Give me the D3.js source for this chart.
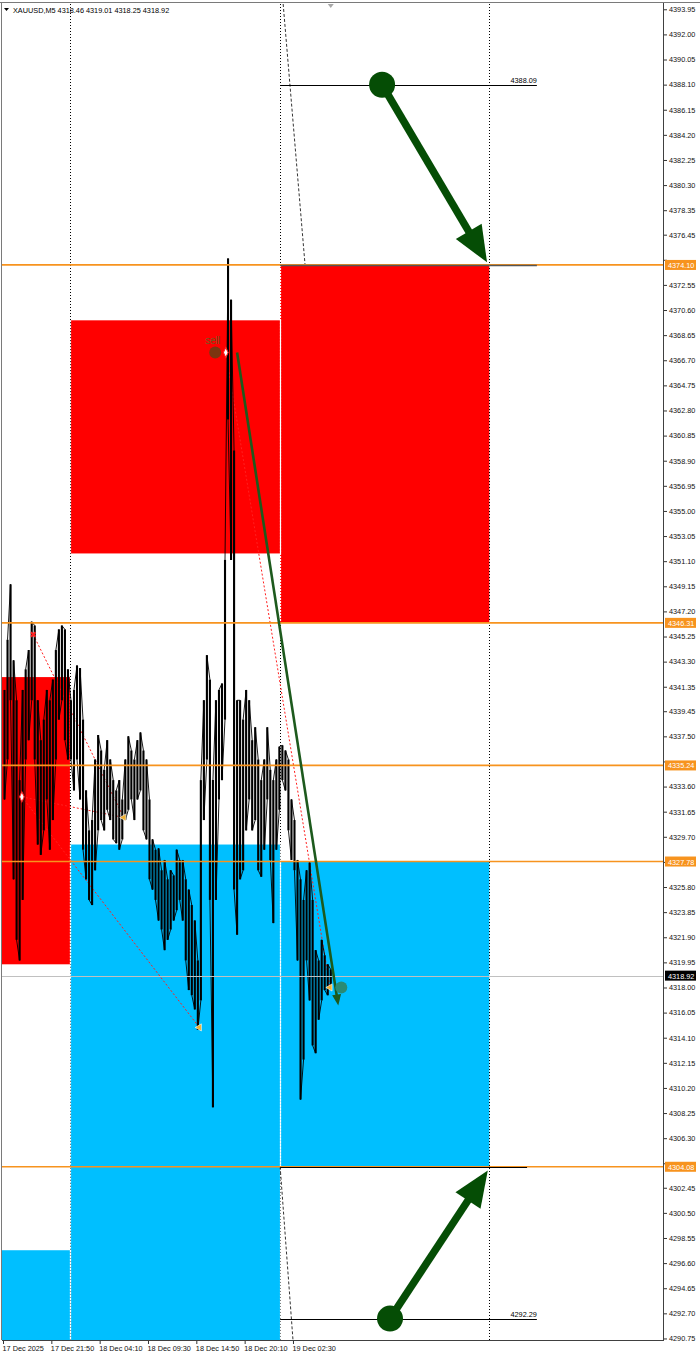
<!DOCTYPE html>
<html>
<head>
<meta charset="utf-8">
<script src="https://d3js.org/d3.v7.min.js"></script>
<style>
  body { margin: 0; background: #fff; }
  svg { display: block; }
  text { font-family: "Liberation Sans", Arial, sans-serif; }
</style>
</head>
<body>
<svg id="chart" width="700" height="1357"></svg>
<script>
// ---- data ----
const symbolName = "XAUUSD,M5";
const lastQuote = [4318.46, 4319.01, 4318.25, 4318.92];
const bidPrice = 4318.92;

// price range per column of 4 M5 bars, left to right
const barsPerColumn = 4;
const barHigh = [4341.1, 4345.0, 4349.3, 4343.4, 4340.3, 4334.1, 4341.1, 4342.7, 4344.2, 4346.4,
  4346.1, 4340.3, 4337.2, 4338.8, 4341.1, 4340.3, 4341.9, 4344.2, 4345.8, 4346.1,
  4345.8, 4342.7, 4340.3, 4341.1, 4343.0, 4342.8, 4338.8, 4333.3, 4330.2, 4331.0,
  4335.7, 4337.6, 4336.4, 4334.9, 4337.2, 4335.7, 4334.1, 4333.3, 4334.1, 4332.6,
  4335.7, 4337.5, 4336.4, 4335.7, 4337.2, 4337.8, 4336.4, 4335.7, 4332.6, 4329.5,
  4328.7, 4328.8, 4327.1, 4327.9, 4326.4, 4327.1, 4326.7, 4328.7, 4327.9, 4327.9,
  4326.4, 4325.6, 4324.4, 4323.2, 4320.1, 4334.1, 4340.3, 4343.8, 4341.9, 4334.1,
  4340.3, 4341.1, 4341.6, 4351.2, 4374.6, 4371.4, 4359.7, 4340.3, 4340.3, 4338.8,
  4341.1, 4340.3, 4337.2, 4338.2, 4335.7, 4334.1, 4335.7, 4338.2, 4334.9, 4334.1,
  4335.7, 4336.7, 4336.8, 4336.4, 4335.7, 4332.6, 4331.0, 4327.9, 4326.4, 4324.8,
  4327.1, 4327.7, 4324.8, 4320.9, 4320.1, 4321.7, 4320.5, 4319.8, 4319.4];
const barLow = [4332.6, 4335.7, 4340.3, 4326.4, 4321.7, 4320.1, 4324.8, 4335.7, 4337.2, 4340.3,
  4335.7, 4329.1, 4328.3, 4330.2, 4332.6, 4328.7, 4331.0, 4335.7, 4338.8, 4340.3,
  4337.2, 4335.7, 4335.7, 4333.3, 4335.7, 4332.6, 4328.7, 4326.4, 4324.8, 4324.4,
  4327.1, 4330.2, 4331.0, 4330.2, 4331.8, 4331.0, 4329.5, 4329.2, 4328.7, 4329.5,
  4331.0, 4331.8, 4332.6, 4331.0, 4332.6, 4333.3, 4330.2, 4329.5, 4326.4, 4325.6,
  4324.8, 4323.2, 4322.5, 4320.9, 4321.7, 4322.5, 4323.2, 4324.0, 4324.8, 4323.2,
  4320.1, 4317.8, 4317.4, 4316.3, 4314.7, 4317.0, 4331.0, 4335.7, 4324.8, 4308.7,
  4324.8, 4332.6, 4334.1, 4338.8, 4362.1, 4351.2, 4325.6, 4322.1, 4326.4, 4327.1,
  4330.2, 4332.6, 4330.2, 4331.0, 4327.1, 4326.6, 4328.7, 4332.6, 4327.9, 4323.0,
  4328.7, 4331.8, 4334.1, 4333.3, 4330.2, 4327.9, 4327.1, 4320.1, 4309.3, 4312.4,
  4320.1, 4317.0, 4313.5, 4312.9, 4315.5, 4317.0, 4317.8, 4317.4, 4318.2];

const priceTicks = [4393.95, 4392.00, 4390.05, 4388.10, 4386.15, 4384.20, 4382.25, 4380.30, 4378.35,
  4376.45, 4374.50, 4372.55, 4370.60, 4368.65, 4366.70, 4364.75, 4362.80, 4360.85, 4358.90,
  4356.95, 4355.00, 4353.05, 4351.10, 4349.15, 4347.20, 4345.25, 4343.30, 4341.35, 4339.45,
  4337.50, 4335.55, 4333.60, 4331.65, 4329.70, 4327.75, 4325.80, 4323.85, 4321.90, 4319.95,
  4318.00, 4316.05, 4314.10, 4312.15, 4310.20, 4308.25, 4306.30, 4304.35, 4302.45, 4300.50,
  4298.55, 4296.60, 4294.65, 4292.70, 4290.75];
// ticks whose label sits under a level tag
const hiddenTicks = [4374.50, 4335.55, 4327.75, 4304.35];

const timeTicks = [0, 64, 128, 192, 256, 320, 384];
const timeLabels = ["17 Dec 2025", "17 Dec 21:50", "18 Dec 04:10", "18 Dec 09:30",
  "18 Dec 14:50", "18 Dec 20:10", "19 Dec 02:30"];

// horizontal levels (orange)
const levelPrices = [4374.10, 4346.31, 4335.24, 4327.78, 4304.08];

// supply / demand zones (bar index, price)
const zoneStart = [-4, -4, 89, 89, 367, 367];
const zoneEnd = [89, 89, 367, 367, 644, 644];
const zoneTop = [4342.1, 4297.6, 4369.8, 4329.1, 4374.10, 4327.78];
const zoneBottom = [4319.8, 4285.0, 4351.7, 4285.0, 4346.31, 4304.08];
const zoneSide = ["sell", "buy", "sell", "buy", "sell", "buy"];

// vertical separators
const sessionBars = [89, 367, 644];

// short horizontal segments
const segPrice = [4388.09, 4374.10, 4304.08, 4292.29];
const segStart = [367, 367, 367, 367];
const segEnd = [707, 707, 694, 707];
const segLabel = ["4388.09", "", "", "4292.29"];

// dashed diagonals
const diagFrom = [[371, 4394.36], [367, 4304.08]];
const diagTo = [[400, 4374.10], [384, 4290.63]];

// big arrows (circle -> head)
const bigArrowFrom = [[502, 4388.09], [512.5, 4292.29]];
const bigArrowTo = [[641, 4374.3], [642, 4303.8]];

// thin trade arrow
const tradeArrowFrom = [310, 4367.3];
const tradeArrowTo = [444, 4316.6];

// trade history
const tradeFrom = [[40, 4345.4], [25, 4332.8], [25, 4332.8], [295, 4367.3]];
const tradeTo = [[160, 4331.2], [160, 4331.2], [260, 4314.9], [433, 4318.0]];
const openMarks = [[25, 4332.8], [295, 4367.3]];
const crossMarks = [[40, 4345.4]];
const closeMarks = [[160, 4331.2], [260, 4314.9], [433, 4318.0]];
const sellSignal = [281, 4367.3];
const exitSignal = [448, 4318.0];

// ---- drawing ----
const svg = d3.select("#chart");
const W = 700, H = 1357;
const plotL = 2, plotR = 663, plotT = 4, plotB = 1340;

const xs = d3.scaleLinear().domain([0, 874]).range([3, 663]);
const ys = d3.scaleLinear().domain([4290.63, 4394.36]).range([plotB, plotT]);
const cx = v => Math.round(xs(v)) + 0.5;
const cy = v => Math.round(ys(v)) + 0.5;

svg.append("rect").attr("width", W).attr("height", H).attr("fill", "#fff");

svg.append("defs").append("clipPath").attr("id", "clip")
  .append("rect").attr("x", plotL).attr("y", plotT).attr("width", plotR - plotL).attr("height", plotB - plotT);

const plot = svg.append("g").attr("clip-path", "url(#clip)");

// zones
plot.selectAll("rect.zone")
  .data(zoneSide)
  .enter()
  .append("rect")
  .attr("class", "zone")
  .attr("x", (d, i) => xs(zoneStart[i]))
  .attr("width", (d, i) => xs(zoneEnd[i]) - xs(zoneStart[i]))
  .attr("y", (d, i) => ys(zoneTop[i]))
  .attr("height", (d, i) => ys(zoneBottom[i]) - ys(zoneTop[i]))
  .attr("fill", d => d === "sell" ? "#ff0000" : "#00bfff");

// vertical dotted separators
plot.selectAll("line.sep")
  .data(sessionBars)
  .enter()
  .append("line")
  .attr("x1", d => cx(d)).attr("x2", d => cx(d))
  .attr("y1", plotT).attr("y2", plotB)
  .attr("stroke", "#000").attr("stroke-dasharray", "1,2");

// separators show white where they cross a zone
sessionBars.slice(0, 2).forEach(b => {
  zoneSide.forEach((s, i) => {
    if (zoneStart[i] === b || zoneEnd[i] === b) {
      plot.append("line")
        .attr("x1", cx(b)).attr("x2", cx(b))
        .attr("y1", ys(zoneTop[i])).attr("y2", ys(zoneBottom[i]))
        .attr("stroke", "#fff").attr("stroke-width", 1.2).attr("stroke-dasharray", "2,1");
    }
  });
});

// dashed diagonals
plot.selectAll("line.diag")
  .data(diagFrom)
  .enter()
  .append("line")
  .attr("x1", d => xs(d[0])).attr("y1", d => ys(d[1]))
  .attr("x2", (d, i) => xs(diagTo[i][0])).attr("y2", (d, i) => ys(diagTo[i][1]))
  .attr("stroke", "#000").attr("stroke-width", 0.8).attr("stroke-dasharray", "3,2");

// trade history dotted lines
plot.selectAll("line.trade")
  .data(tradeFrom)
  .enter()
  .append("line")
  .attr("x1", d => xs(d[0])).attr("y1", d => ys(d[1]))
  .attr("x2", (d, i) => xs(tradeTo[i][0])).attr("y2", (d, i) => ys(tradeTo[i][1]))
  .attr("stroke", "#ff2020").attr("stroke-width", 1).attr("stroke-dasharray", "2,2");

// price bars: thin connecting trace + one vertical stroke per column
const colX = k => xs(k * barsPerColumn + barsPerColumn / 2);
const pts = [];
barHigh.forEach((h, k) => {
  if (k % 2 === 0) pts.push([k, h], [k, barLow[k]]);
  else pts.push([k, barLow[k]], [k, h]);
});
plot.append("path")
  .attr("d", d3.line().x(d => colX(d[0])).y(d => ys(d[1]))(pts))
  .attr("fill", "none").attr("stroke", "#000").attr("stroke-width", 0.9)
  .attr("stroke-linejoin", "round");
plot.selectAll("line.bar")
  .data(barHigh)
  .enter()
  .append("line")
  .attr("x1", (d, k) => colX(k))
  .attr("x2", (d, k) => colX(k))
  .attr("y1", d => ys(d)).attr("y2", (d, k) => ys(barLow[k]))
  .attr("stroke", "#000").attr("stroke-width", 2.1);

// bid line
plot.append("line")
  .attr("x1", plotL).attr("x2", plotR).attr("y1", cy(bidPrice)).attr("y2", cy(bidPrice))
  .attr("stroke", "#c0c0c0");

// orange levels
plot.selectAll("line.level")
  .data(levelPrices)
  .enter()
  .append("line")
  .attr("x1", plotL).attr("x2", plotR)
  .attr("y1", d => ys(d)).attr("y2", d => ys(d))
  .attr("stroke", "#f7931e").attr("stroke-width", 1.7);

// short segments
plot.selectAll("line.seg")
  .data(segPrice)
  .enter()
  .append("line")
  .attr("x1", (d, i) => xs(segStart[i])).attr("x2", (d, i) => xs(segEnd[i]))
  .attr("y1", d => cy(d)).attr("y2", d => cy(d))
  .attr("stroke", (d, i) => i === 1 ? "#555" : "#000").attr("stroke-width", (d, i) => i === 1 ? 1.4 : 1);
plot.selectAll("text.seg")
  .data(segPrice)
  .enter()
  .append("text")
  .attr("x", (d, i) => xs(segEnd[i]))
  .attr("y", d => ys(d) - 2)
  .attr("text-anchor", "end")
  .attr("font-size", "7.3px")
  .attr("fill", "#000")
  .text((d, i) => segLabel[i]);

// trade markers
plot.selectAll("path.open")
  .data(openMarks)
  .enter()
  .append("path")
  .attr("d", d3.symbol(d3.symbolDiamond, 30))
  .attr("transform", d => `translate(${xs(d[0])},${ys(d[1])}) scale(0.8,1)`)
  .attr("fill", "#fff").attr("stroke", "#ff2020").attr("stroke-width", 1.2);
plot.selectAll("path.cross")
  .data(crossMarks)
  .enter()
  .append("path")
  .attr("d", d3.symbol(d3.symbolCross, 22))
  .attr("transform", d => `translate(${xs(d[0])},${ys(d[1])}) rotate(45)`)
  .attr("fill", "#ff2020");
plot.selectAll("path.close")
  .data(closeMarks)
  .enter()
  .append("path")
  .attr("d", d3.symbol(d3.symbolTriangle, 22))
  .attr("transform", d => `translate(${xs(d[0])},${ys(d[1])}) rotate(-90)`)
  .attr("fill", "#f0b030").attr("stroke", "#fff").attr("stroke-width", 0.6);

// sell signal
plot.append("circle")
  .attr("cx", xs(sellSignal[0])).attr("cy", ys(sellSignal[1])).attr("r", 6)
  .attr("fill", "#7b3510");
plot.append("text")
  .attr("x", xs(sellSignal[0]) - 10).attr("y", ys(sellSignal[1]) - 9)
  .attr("font-size", "10px").attr("fill", "#6e5a22")
  .text("sell");

// thin green arrow
function arrowHead(x1, y1, x2, y2, len, half) {
  const a = Math.atan2(y2 - y1, x2 - x1);
  const bx = x2 - len * Math.cos(a), by = y2 - len * Math.sin(a);
  const nx = -Math.sin(a) * half, ny = Math.cos(a) * half;
  return `M${x2},${y2}L${bx + nx},${by + ny}L${bx - nx},${by - ny}Z`;
}
{
  const x1 = xs(tradeArrowFrom[0]), y1 = ys(tradeArrowFrom[1]);
  const x2 = xs(tradeArrowTo[0]), y2 = ys(tradeArrowTo[1]);
  const a = Math.atan2(y2 - y1, x2 - x1);
  plot.append("line")
    .attr("x1", x1).attr("y1", y1)
    .attr("x2", x2 - 8 * Math.cos(a)).attr("y2", y2 - 8 * Math.sin(a))
    .attr("stroke", "#1d5a1d").attr("stroke-width", 2.6);
  plot.append("path").attr("d", arrowHead(x1, y1, x2, y2, 11, 4.5)).attr("fill", "#1d5a1d");
}
plot.append("circle")
  .attr("cx", xs(exitSignal[0])).attr("cy", ys(exitSignal[1])).attr("r", 6)
  .attr("fill", "#2a8a74");

// big green arrows
bigArrowFrom.forEach((f, i) => {
  const x1 = xs(f[0]), y1 = ys(f[1]);
  const x2 = xs(bigArrowTo[i][0]), y2 = ys(bigArrowTo[i][1]);
  const a = Math.atan2(y2 - y1, x2 - x1);
  plot.append("line")
    .attr("x1", x1).attr("y1", y1)
    .attr("x2", x2 - 25 * Math.cos(a)).attr("y2", y2 - 25 * Math.sin(a))
    .attr("stroke", "#054d05").attr("stroke-width", 7.5);
  plot.append("path").attr("d", arrowHead(x1, y1, x2, y2, 36, 15)).attr("fill", "#054d05");
  plot.append("circle").attr("cx", x1).attr("cy", y1).attr("r", 13).attr("fill", "#054d05");
});

// shift marker
svg.append("path")
  .attr("d", `M${xs(434) - 3},4L${xs(434) + 3},4L${xs(434)},8Z`)
  .attr("fill", "#a8a8a8");

// frame
svg.append("line").attr("x1", 0).attr("x2", W).attr("y1", 2.5).attr("y2", 2.5).attr("stroke", "#7a7a7a");
svg.append("line").attr("x1", 1.5).attr("x2", 1.5).attr("y1", 2).attr("y2", plotB).attr("stroke", "#7a7a7a");
svg.append("line").attr("x1", plotL).attr("x2", plotR).attr("y1", plotB + 0.5).attr("y2", plotB + 0.5).attr("stroke", "#404040");
svg.append("line").attr("x1", plotR + 0.5).attr("x2", plotR + 0.5).attr("y1", 3).attr("y2", plotB + 1).attr("stroke", "#404040");

// right price axis
const yAxis = svg.append("g")
  .attr("transform", `translate(${plotR + 1},0)`)
  .call(d3.axisRight(ys).tickValues(priceTicks).tickSize(3).tickPadding(2)
    .tickFormat(d => hiddenTicks.includes(d) ? "" : d3.format(".2f")(d)));
yAxis.select(".domain").remove();
yAxis.selectAll("text").attr("font-size", "7.3px").attr("font-family", "Liberation Sans, Arial, sans-serif").attr("fill", "#111");
yAxis.selectAll("line").attr("stroke", "#333");

// bottom time axis
const xAxis = svg.append("g")
  .attr("transform", `translate(0,${plotB + 1})`)
  .call(d3.axisBottom(xs).tickValues(timeTicks).tickSize(3).tickPadding(2).tickFormat((d, i) => timeLabels[i]));
xAxis.select(".domain").remove();
xAxis.selectAll("text").attr("text-anchor", "start").attr("dx", "-1").attr("font-size", "7.3px")
  .attr("font-family", "Liberation Sans, Arial, sans-serif").attr("fill", "#111");
xAxis.selectAll("line").attr("stroke", "#333");

// level labels on the axis
const levelTag = svg.selectAll("g.tag")
  .data(levelPrices)
  .enter()
  .append("g")
  .attr("transform", d => `translate(${plotR + 2},${ys(d)})`);
levelTag.append("rect").attr("x", 0).attr("y", -5).attr("width", 31).attr("height", 10).attr("fill", "#f7931e");
levelTag.append("text").attr("x", 3).attr("y", 3).attr("font-size", "7.3px").attr("fill", "#fff")
  .text(d => d3.format(".2f")(d));

const bidTag = svg.append("g").attr("transform", `translate(${plotR + 2},${ys(bidPrice)})`);
bidTag.append("rect").attr("x", 0).attr("y", -5).attr("width", 31).attr("height", 10).attr("fill", "#000");
bidTag.append("text").attr("x", 3).attr("y", 3).attr("font-size", "7.3px").attr("fill", "#fff")
  .text(d3.format(".2f")(bidPrice));

// header
svg.append("path").attr("d", "M4,8L9,8L6.5,11Z").attr("fill", "#000");
svg.append("text").attr("x", 13).attr("y", 13).attr("font-size", "7.3px").attr("fill", "#000")
  .text(symbolName + "  " + lastQuote.map(d3.format(".2f")).join(" "));
</script>
</body>
</html>
